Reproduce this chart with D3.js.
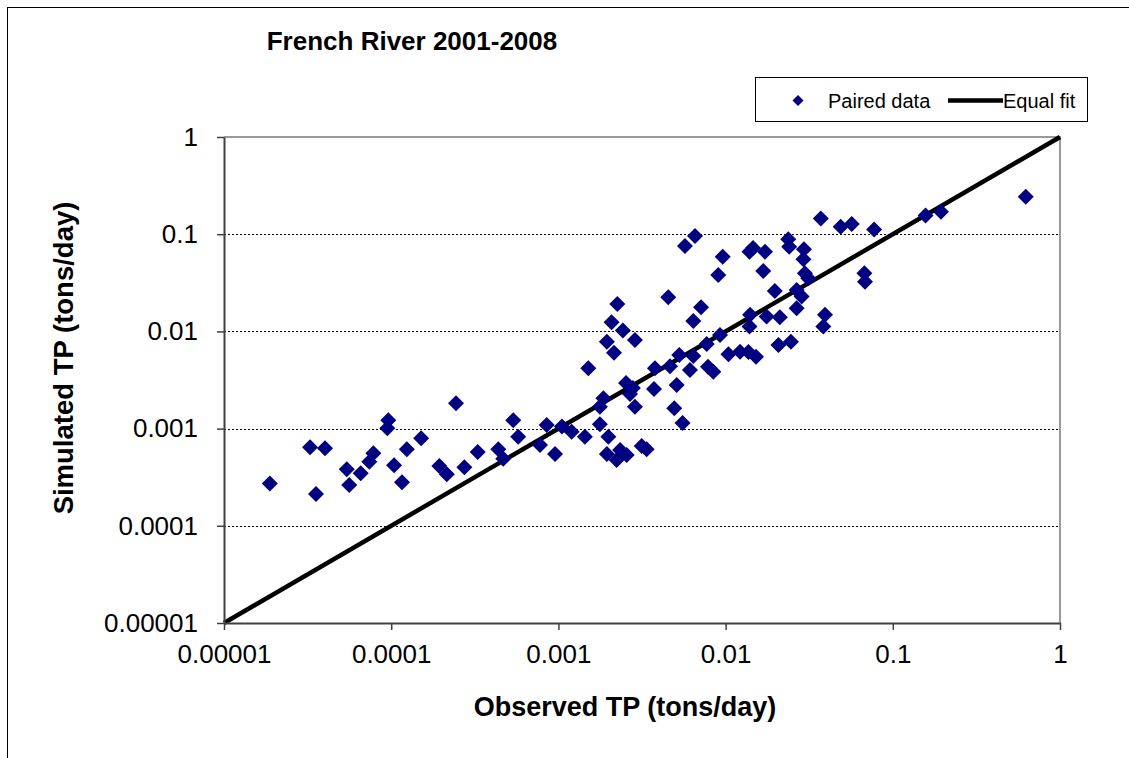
<!DOCTYPE html>
<html>
<head>
<meta charset="utf-8">
<script src="https://cdn.jsdelivr.net/npm/d3@7/dist/d3.min.js"></script>
<style>
  html, body { margin: 0; padding: 0; background: #fff; }
  svg { display: block; font-family: Arial, "Liberation Sans", sans-serif; }
</style>
</head>
<body>
<svg id="chart" width="1129" height="758"></svg>
<script>
// ---- Data ----
const title = "French River 2001-2008";
const xLabel = "Observed TP (tons/day)";
const yLabel = "Simulated TP (tons/day)";
const seriesNames = ["Paired data", "Equal fit"];

const tickValues = [0.00001, 0.0001, 0.001, 0.01, 0.1, 1];
const tickLabels = ["0.00001", "0.0001", "0.001", "0.01", "0.1", "1"];
const gridValues = [0.0001, 0.001, 0.01, 0.1];

const observed = [
  1.88e-5, 3.27e-5, 4.02e-5, 3.55e-5, 5.42e-5, 5.61e-5, 6.57e-5, 7.40e-5, 7.82e-5, 9.61e-5,
  9.48e-5, 1.04e-4, 1.16e-4, 1.24e-4, 1.51e-4, 2.44e-4, 1.94e-4, 2.15e-4, 2.74e-4, 3.29e-4,
  4.37e-4, 4.68e-4, 5.37e-4, 5.75e-4, 7.76e-4, 8.51e-4, 9.55e-4, 1.05e-3, 1.20e-3, 1.44e-3,
  1.77e-3, 1.77e-3, 1.86e-3, 1.99e-3, 1.95e-3, 2.23e-3, 2.34e-3, 2.56e-3, 3.15e-3, 3.37e-3,
  1.51e-3, 1.95e-3, 2.15e-3, 2.08e-3, 2.25e-3, 2.43e-3, 2.87e-3, 2.54e-3, 2.79e-3, 2.68e-3,
  2.87e-3, 3.73e-3, 3.78e-3, 4.54e-3, 4.65e-3, 5.10e-3, 4.93e-3, 5.53e-3, 5.28e-3, 6.41e-3,
  6.12e-3, 6.41e-3, 7.13e-3, 7.71e-3, 7.85e-3, 8.44e-3, 9.26e-3, 1.04e-2, 1.22e-2, 1.37e-2,
  1.52e-2, 1.39e-2, 1.40e-2, 1.76e-2, 2.11e-2, 2.07e-2, 2.46e-2, 1.97e-2, 2.66e-2, 2.85e-2,
  2.66e-2, 3.93e-2, 3.84e-2, 5.71e-3, 6.56e-3, 9.61e-3, 9.04e-3, 1.39e-2, 1.46e-2, 1.72e-2,
  1.68e-2, 2.37e-2, 2.40e-2, 2.94e-2, 2.92e-2, 2.98e-2, 3.12e-2, 3.71e-2, 4.88e-2, 5.68e-2,
  7.73e-2, 0.157, 0.194, 0.624, 6.76e-2, 6.82e-2
];
const simulated = [
  2.73e-4, 6.43e-4, 6.27e-4, 2.12e-4, 3.81e-4, 2.63e-4, 3.47e-4, 4.56e-4, 5.57e-4, 1.22e-3,
  1.01e-3, 4.19e-4, 2.81e-4, 6.12e-4, 7.94e-4, 1.82e-3, 4.12e-4, 3.39e-4, 4.00e-4, 5.74e-4,
  6.12e-4, 4.90e-4, 1.22e-3, 8.26e-4, 6.78e-4, 1.09e-3, 5.48e-4, 1.05e-3, 9.29e-4, 8.26e-4,
  1.11e-3, 1.68e-3, 2.05e-3, 8.26e-4, 5.48e-4, 4.75e-4, 6.03e-4, 5.35e-4, 6.62e-4, 6.12e-4,
  4.17e-3, 7.83e-3, 6.04e-3, 1.24e-2, 1.91e-2, 1.02e-2, 8.16e-3, 2.94e-3, 2.62e-3, 2.27e-3,
  1.68e-3, 2.55e-3, 4.17e-3, 2.24e-2, 4.38e-3, 2.81e-3, 1.62e-3, 1.14e-3, 5.71e-3, 5.58e-3,
  4.01e-3, 1.28e-2, 1.77e-2, 7.41e-3, 4.34e-3, 3.85e-3, 9.19e-3, 5.81e-3, 6.18e-3, 6.14e-3,
  5.50e-3, 1.12e-2, 1.48e-2, 1.42e-2, 1.40e-2, 7.24e-3, 7.83e-3, 2.61e-2, 2.67e-2, 2.28e-2,
  1.73e-2, 1.48e-2, 1.12e-2, 7.56e-2, 9.57e-2, 5.87e-2, 3.80e-2, 6.61e-2, 7.21e-2, 6.61e-2,
  4.18e-2, 8.87e-2, 7.43e-2, 7.00e-2, 5.52e-2, 3.96e-2, 3.52e-2, 0.145, 0.119, 0.127,
  0.112, 0.156, 0.170, 0.243, 3.96e-2, 3.24e-2
];
const equalFit = [0.00001, 1];

// ---- Chart ----
const svg = d3.select("#chart");
const W = 1129, H = 758;
const plot = { left: 224, right: 1060, top: 137, bottom: 623 };

svg.append("rect").attr("width", W).attr("height", H).attr("fill", "#fff");
// outer chart frame (extends beyond the visible window on the right/bottom)
svg.append("rect").attr("x", 7.5).attr("y", 7.5).attr("width", 1140).attr("height", 770)
  .attr("fill", "none").attr("stroke", "#000").attr("stroke-width", 1);

const x = d3.scaleLog().domain([1e-5, 1]).range([plot.left, plot.right]);
const y = d3.scaleLog().domain([1e-5, 1]).range([plot.bottom, plot.top]);

// gridlines
svg.append("g").selectAll("line").data(gridValues).join("line")
  .attr("x1", plot.left).attr("x2", plot.right)
  .attr("y1", d => Math.round(y(d)) + 0.5).attr("y2", d => Math.round(y(d)) + 0.5)
  .attr("stroke", "#000").attr("stroke-width", 1).attr("stroke-dasharray", "2,2");

// top and right plot borders (gray)
svg.append("path")
  .attr("d", `M${plot.left},${plot.top}H${plot.right}V${plot.bottom}`)
  .attr("fill", "none").attr("stroke", "#9a9a9a").attr("stroke-width", 2);

// equal fit line
const line = d3.line().x(d => x(d)).y(d => y(d));
svg.append("path").datum(equalFit).attr("d", line)
  .attr("fill", "none").attr("stroke", "#000").attr("stroke-width", 4.5);

// points
const pts = observed.map((o, i) => ({ o, s: simulated[i] }));
svg.append("g").selectAll("path").data(pts).join("path")
  .attr("d", d3.symbol().type(d3.symbolSquare).size(128))
  .attr("transform", d => `translate(${x(d.o)},${y(d.s)}) rotate(45)`)
  .attr("fill", "#000080");

// axes
const fmt = (d) => tickLabels[tickValues.indexOf(d)];
const yAxis = svg.append("g").attr("transform", `translate(${plot.left},0)`)
  .call(d3.axisLeft(y).tickValues(tickValues).tickFormat(fmt).tickSizeInner(7).tickSizeOuter(0).tickPadding(19));
const xAxis = svg.append("g").attr("transform", `translate(0,${plot.bottom})`)
  .call(d3.axisBottom(x).tickValues(tickValues).tickFormat(fmt).tickSizeInner(7).tickSizeOuter(0).tickPadding(15));
[yAxis, xAxis].forEach(g => {
  g.select(".domain").attr("stroke", "#404040").attr("stroke-width", 2);
  g.selectAll(".tick line").attr("stroke", "#404040").attr("stroke-width", 1.5);
  g.selectAll(".tick text").attr("fill", "#000")
    .style("font-size", "26px").style("font-family", "Arial, 'Liberation Sans', sans-serif");
});

// title
svg.append("text").attr("x", 412).attr("y", 50).attr("text-anchor", "middle")
  .style("font-size", "26px").style("font-weight", "bold").text(title);

// axis titles
svg.append("text").attr("x", 625).attr("y", 716).attr("text-anchor", "middle")
  .style("font-size", "27px").style("font-weight", "bold").text(xLabel);
svg.append("text").attr("transform", "translate(73,358) rotate(-90)").attr("text-anchor", "middle")
  .style("font-size", "27.5px").style("font-weight", "bold").text(yLabel);

// legend
const lg = svg.append("g");
lg.append("rect").attr("x", 755.5).attr("y", 77.5).attr("width", 332).attr("height", 44)
  .attr("fill", "#fff").attr("stroke", "#000").attr("stroke-width", 1);
lg.append("path").attr("d", d3.symbol().type(d3.symbolSquare).size(60))
  .attr("transform", "translate(798,100.5) rotate(45)").attr("fill", "#000080");
lg.append("text").attr("x", 828).attr("y", 107.5).style("font-size", "20px").text(seriesNames[0]);
lg.append("line").attr("x1", 948).attr("x2", 1003).attr("y1", 100.5).attr("y2", 100.5)
  .attr("stroke", "#000").attr("stroke-width", 4.5);
lg.append("text").attr("x", 1003).attr("y", 107.5).style("font-size", "20px").text(seriesNames[1]);
</script>
</body>
</html>
